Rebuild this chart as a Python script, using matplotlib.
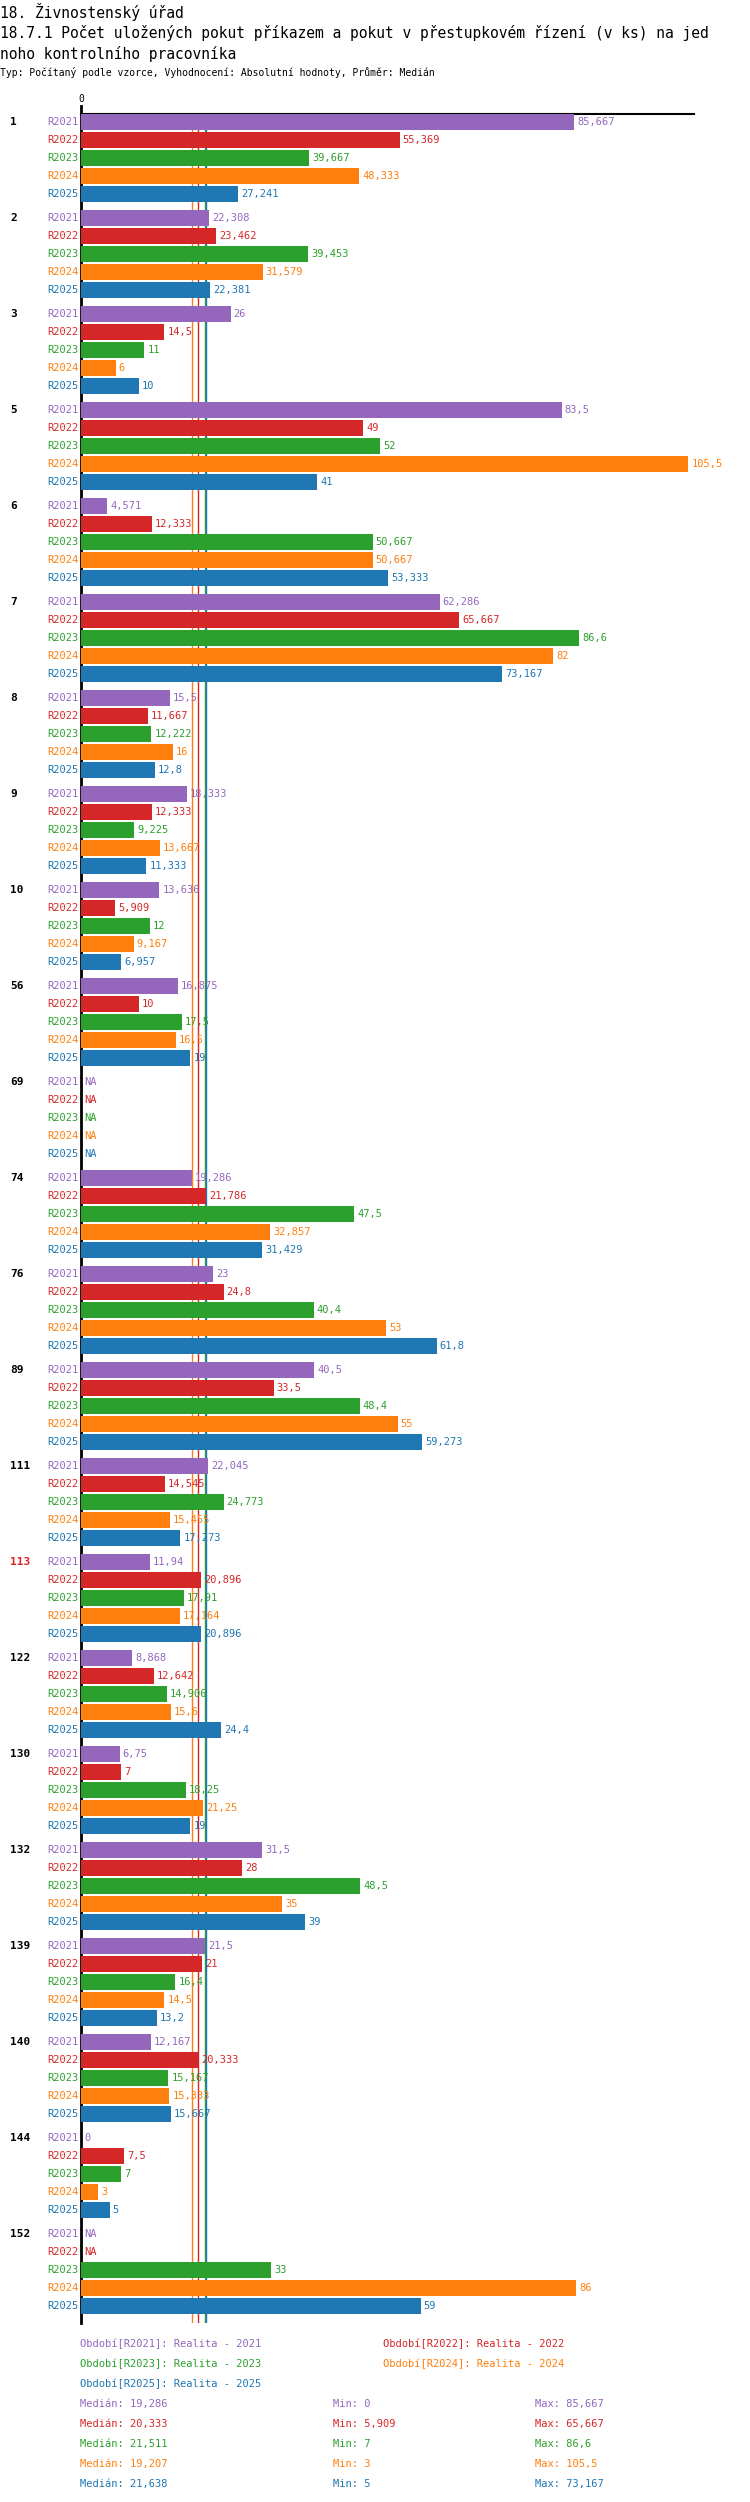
import matplotlib.pyplot as plt
import numpy as np

plt.rcParams['font.family'] = ['DejaVu Sans Mono']

groups = ["1", "2", "3", "5", "6", "7", "8", "9", "10", "56", "69", "74", "76", "89",
          "111", "113", "122", "130", "132", "139", "140", "144", "152"]
years = ["R2021", "R2022", "R2023", "R2024", "R2025"]
colors = ["#9467bd", "#d62728", "#2ca02c", "#ff7f0e", "#1f77b4"]
NA = None
values = [
    [85.667, 55.369, 39.667, 48.333, 27.241],
    [22.308, 23.462, 39.453, 31.579, 22.381],
    [26, 14.5, 11, 6, 10],
    [83.5, 49, 52, 105.5, 41],
    [4.571, 12.333, 50.667, 50.667, 53.333],
    [62.286, 65.667, 86.6, 82, 73.167],
    [15.5, 11.667, 12.222, 16, 12.8],
    [18.333, 12.333, 9.225, 13.667, 11.333],
    [13.636, 5.909, 12, 9.167, 6.957],
    [16.875, 10, 17.5, 16.5, 19],
    [NA, NA, NA, NA, NA],
    [19.286, 21.786, 47.5, 32.857, 31.429],
    [23, 24.8, 40.4, 53, 61.8],
    [40.5, 33.5, 48.4, 55, 59.273],
    [22.045, 14.545, 24.773, 15.455, 17.273],
    [11.94, 20.896, 17.91, 17.164, 20.896],
    [8.868, 12.642, 14.906, 15.6, 24.4],
    [6.75, 7, 18.25, 21.25, 19],
    [31.5, 28, 48.5, 35, 39],
    [21.5, 21, 16.4, 14.5, 13.2],
    [12.167, 20.333, 15.167, 15.333, 15.667],
    [0, 7.5, 7, 3, 5],
    [NA, NA, 33, 86, 59],
]
legend_names = ["Realita - 2021", "Realita - 2022", "Realita - 2023", "Realita - 2024", "Realita - 2025"]
medians = [19.286, 20.333, 21.511, 19.207, 21.638]
mins = ["0", "5,909", "7", "3", "5"]
maxs = ["85,667", "65,667", "86,6", "105,5", "73,167"]
median_order = [3, 1, 2, 4]  # drawing order of median lines

W, H = 750, 2502
fig = plt.figure(figsize=(W / 100, H / 100), dpi=100)

def fmt(v):
    s = ("%.3f" % v).rstrip("0").rstrip(".")
    return s.replace(".", ",")

# axes in pixel geometry
x0, x1 = 81, 694
ytop, ybot = 114, 2323
ax = fig.add_axes([x0 / W, 1 - ybot / H, (x1 - x0) / W, (ybot - ytop) / H])
xmax = 106.5
ax.set_xlim(0, xmax)
ax.set_ylim(ybot, ytop)
ax.axis("off")
ax.plot([0, xmax], [ytop, ytop], color="black", lw=1.5, clip_on=False)
ax.plot([0, 0], [ytop - 8, ybot], color="black", lw=2, clip_on=False)
ax.text(0, ytop - 10, "0", ha="center", va="bottom", fontsize=7)

for k in [3, 1, 2, 4, 0]:
    if k == 0:
        continue
for k in median_order:
    ax.plot([medians[k], medians[k]], [ytop, ybot], color=colors[k], lw=1, zorder=1)

px_per_unit = (x1 - x0) / xmax
for g, name in enumerate(groups):
    base = 122 + g * 96
    fig.text(10 / W, 1 - base / H, name, ha="left", va="center", fontsize=8, fontweight="bold",
             color="#d62728" if name == "113" else "black")
    for i, yr in enumerate(years):
        y = base + i * 18
        v = values[g][i]
        fig.text(78 / W, 1 - y / H, yr, ha="right", va="center", fontsize=7.5, color=colors[i])
        if v is None:
            ax.text(3 / px_per_unit, y, "NA", ha="left", va="center", fontsize=7.5, color=colors[i])
            continue
        ax.barh(y, v, height=16, color=colors[i], zorder=2)
        ax.text(v + 3 / px_per_unit, y, fmt(v), ha="left", va="center", fontsize=7.5, color=colors[i])

fig.text(0, 1 - 12 / H, "18. Živnostenský úřad", ha="left", va="center", fontsize=10.5)
fig.text(0, 1 - 33 / H, "18.7.1 Počet uložených pokut příkazem a pokut v přestupkovém řízení (v ks) na jed",
         ha="left", va="center", fontsize=10.5)
fig.text(0, 1 - 54 / H, "noho kontrolního pracovníka", ha="left", va="center", fontsize=10.5)
fig.text(0, 1 - 73 / H, "Typ: Počítaný podle vzorce, Vyhodnocení: Absolutní hodnoty, Průměr: Medián",
         ha="left", va="center", fontsize=7)

for i, yr in enumerate(years):
    xl = 80 if i % 2 == 0 else 383
    yl = 2344 + (i // 2) * 20
    fig.text(xl / W, 1 - yl / H, "Období[%s]: %s" % (yr, legend_names[i]), ha="left", va="center",
             fontsize=7.5, color=colors[i])
    ys = 2404 + i * 20
    fig.text(80 / W, 1 - ys / H, "Medián: " + fmt(medians[i]), ha="left", va="center", fontsize=7.5, color=colors[i])
    fig.text(333 / W, 1 - ys / H, "Min: " + mins[i], ha="left", va="center", fontsize=7.5, color=colors[i])
    fig.text(535 / W, 1 - ys / H, "Max: " + maxs[i], ha="left", va="center", fontsize=7.5, color=colors[i])

fig.savefig("out.png", dpi=100)
